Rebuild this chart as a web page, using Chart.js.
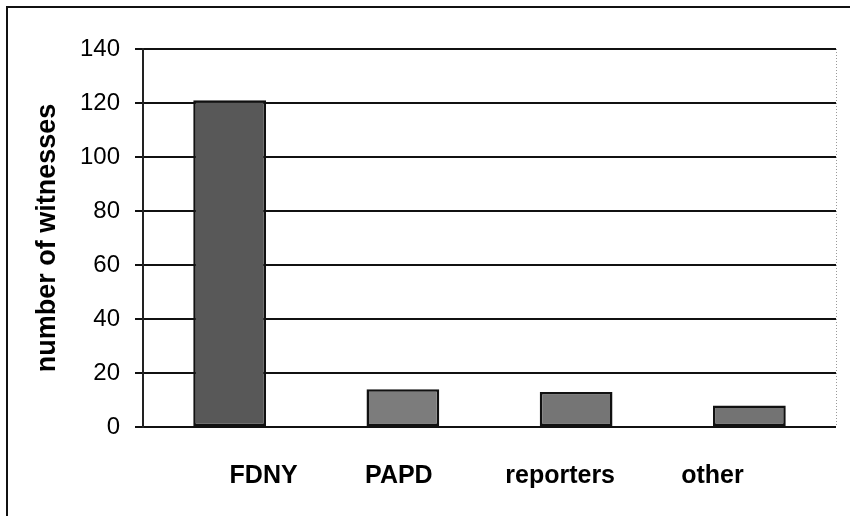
<!DOCTYPE html>
<html>
<head>
<meta charset="utf-8">
<script src="https://cdn.jsdelivr.net/npm/chart.js@4"></script>
<style>
  html, body { margin: 0; padding: 0; background: #fff; }
  #wrap { width: 850px; height: 516px; }
</style>
</head>
<body>
<div id="wrap"><canvas id="chart" width="850" height="516"></canvas></div>
<script>
// Witness counts by group
const categories = ['FDNY', 'PAPD', 'reporters', 'other'];
const witnesses = [121, 14, 13, 8];
const yTicks = [0, 20, 40, 60, 80, 100, 120, 140];

const barFill = ['#585858', '#7c7c7c', '#757575', '#737373'];
// the scanned labels sit a little off their bars
const labelNudge = [34, -4, -16, -37];

// frame, right plot edge and hand-placed category labels
const decorPlugin = {
  id: 'decor',
  afterDraw(chart) {
    const { ctx, chartArea: a, scales: { x } } = chart;
    ctx.save();
    ctx.strokeStyle = '#111';
    ctx.lineWidth = 2;
    ctx.beginPath();
    ctx.moveTo(7, 516);
    ctx.lineTo(7, 7);
    ctx.lineTo(850, 7);
    ctx.stroke();

    ctx.strokeStyle = '#999';
    ctx.lineWidth = 1;
    ctx.setLineDash([1, 2]);
    ctx.beginPath();
    ctx.moveTo(a.right + 0.5, a.top);
    ctx.lineTo(a.right + 0.5, a.bottom);
    ctx.stroke();
    ctx.setLineDash([]);

    ctx.fillStyle = '#000';
    ctx.font = 'bold 25px "Liberation Sans", Arial, sans-serif';
    ctx.textAlign = 'center';
    ctx.textBaseline = 'alphabetic';
    categories.forEach(function (c, i) {
      ctx.fillText(c, x.getPixelForValue(i) + labelNudge[i], 483);
    });
    ctx.restore();
  }
};

new Chart(document.getElementById('chart'), {
  type: 'bar',
  data: {
    labels: categories,
    datasets: [{
      data: witnesses,
      backgroundColor: barFill,
      borderColor: '#111',
      borderWidth: 2.5,
      borderSkipped: false,
      barPercentage: 0.42,
      categoryPercentage: 1
    }]
  },
  options: {
    responsive: false,
    animation: false,
    layout: { padding: { left: 0, right: 14, top: 49, bottom: 0 } },
    plugins: { legend: { display: false }, tooltip: { enabled: false } },
    scales: {
      x: {
        grid: { display: false },
        border: { display: false },
        ticks: { display: false },
        afterFit(scale) { scale.height = 89; }
      },
      y: {
        min: 0, max: 140,
        afterBuildTicks(scale) { scale.ticks = yTicks.map(v => ({ value: v })); },
        afterFit(scale) { scale.width = 143; },
        grid: { color: '#111', lineWidth: 2, tickLength: 8 },
        border: { display: true, color: '#222', width: 2 },
        ticks: {
          color: '#000',
          padding: 15,
          font: { family: '"Liberation Sans", Arial, sans-serif', size: 24 }
        },
        title: {
          display: true,
          text: 'number of witnesses',
          color: '#000',
          padding: { top: 31, bottom: 0 },
          font: { family: '"Liberation Sans", Arial, sans-serif', size: 27, weight: 'bold' }
        }
      }
    }
  },
  plugins: [decorPlugin]
});
</script>
</body>
</html>
